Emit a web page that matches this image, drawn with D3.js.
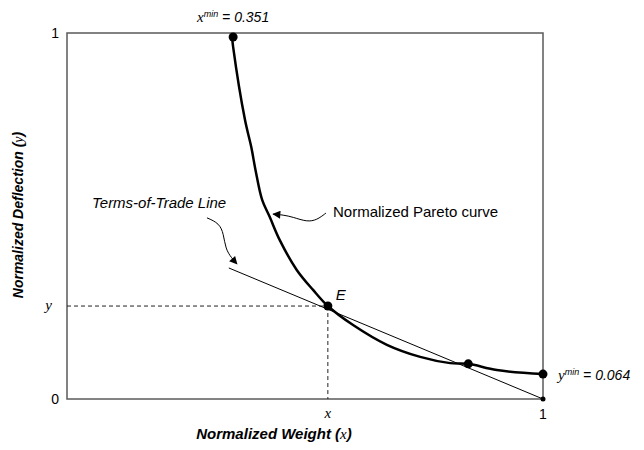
<!DOCTYPE html>
<html>
<head>
<meta charset="utf-8">
<script src="https://cdn.jsdelivr.net/npm/d3@7"></script>
<style>
  body { margin: 0; background: #fff; }
  svg text { font-family: "Liberation Sans", Arial, sans-serif; fill: #000; }
  .var { font-family: "Liberation Serif", "Times New Roman", serif; font-style: italic; font-weight: normal; }
</style>
</head>
<body>
<div id="chart"></div>
<script>
// normalized pareto curve (weight x, deflection y)
var paretoX = [0.347, 0.349, 0.374, 0.387, 0.396, 0.410, 0.426, 0.447, 0.483, 0.517, 0.548, 0.601, 0.672, 0.742, 0.805, 0.843, 0.903, 1.000];
var paretoY = [0.986, 0.962, 0.762, 0.689, 0.626, 0.544, 0.497, 0.434, 0.352, 0.298, 0.254, 0.202, 0.148, 0.115, 0.098, 0.096, 0.079, 0.068];

// terms-of-trade line end points
var tradeX = [0.340, 1.0];
var tradeY = [0.358, 0.0];

// marked points: x-min, E, crossing, y-min
var dotX = [0.349, 0.548, 0.843, 1.0];
var dotY = [0.989, 0.254, 0.096, 0.068];

// point E, used for dashed guides
var eX = 0.548, eY = 0.254;

// annotation arrows
var arrowTradeX = [0.294, 0.320, 0.329, 0.333, 0.346, 0.357];
var arrowTradeY = [0.495, 0.480, 0.451, 0.410, 0.385, 0.369];
var arrowParetoX = [0.544, 0.525, 0.504, 0.475, 0.454, 0.433];
var arrowParetoY = [0.508, 0.489, 0.484, 0.497, 0.503, 0.505];

var tickValues = [0, 1];

var width = 644, height = 450;
var margin = {top: 33, right: 101, bottom: 51, left: 67};
var plotW = width - margin.left - margin.right;
var plotH = height - margin.top - margin.bottom;

var svg = d3.select("#chart").append("svg")
    .attr("width", width)
    .attr("height", height);

var defs = svg.append("defs");
defs.append("marker")
    .attr("id", "arrowhead")
    .attr("viewBox", "0 0 10 10")
    .attr("refX", 9).attr("refY", 5)
    .attr("markerWidth", 10).attr("markerHeight", 8)
    .attr("markerUnits", "userSpaceOnUse")
    .attr("orient", "auto")
    .append("path")
    .attr("d", "M0,0 L10,5 L0,10 z")
    .attr("fill", "#000");

var g = svg.append("g").attr("transform", "translate(" + margin.left + "," + margin.top + ")");

var xScale = d3.scaleLinear().domain([0, 1]).range([0, plotW]);
var yScale = d3.scaleLinear().domain([0, 1]).range([plotH, 0]);

// frame
g.append("rect")
    .attr("x", xScale(0)).attr("y", yScale(1))
    .attr("width", xScale(1) - xScale(0))
    .attr("height", yScale(0) - yScale(1))
    .attr("fill", "none")
    .attr("stroke", "#5a5a5a")
    .attr("stroke-width", 1.5);

// tick labels
g.selectAll(".ytick").data(tickValues).enter().append("text")
    .attr("class", "ytick")
    .attr("x", -8)
    .attr("y", function(d) { return yScale(d) + 5; })
    .attr("text-anchor", "end")
    .attr("font-size", 14)
    .text(function(d) { return d; });

g.append("text")
    .attr("x", xScale(1))
    .attr("y", plotH + 20)
    .attr("text-anchor", "middle")
    .attr("font-size", 14)
    .text(tickValues[1]);

// dashed guides to E
g.append("line")
    .attr("x1", xScale(0)).attr("x2", xScale(eX))
    .attr("y1", yScale(eY)).attr("y2", yScale(eY))
    .attr("stroke", "#222").attr("stroke-width", 1)
    .attr("stroke-dasharray", "4,3");
g.append("line")
    .attr("x1", xScale(eX)).attr("x2", xScale(eX))
    .attr("y1", yScale(eY)).attr("y2", yScale(0))
    .attr("stroke", "#222").attr("stroke-width", 1)
    .attr("stroke-dasharray", "4,3");

g.append("text").attr("class", "var")
    .attr("x", -15).attr("y", yScale(eY) + 4)
    .attr("text-anchor", "end").attr("font-size", 15)
    .text("y");
g.append("text").attr("class", "var")
    .attr("x", xScale(eX)).attr("y", plotH + 19)
    .attr("text-anchor", "middle").attr("font-size", 15)
    .text("x");

// terms-of-trade line
g.append("path")
    .datum(d3.zip(tradeX, tradeY))
    .attr("d", d3.line().x(function(d) { return xScale(d[0]); }).y(function(d) { return yScale(d[1]); }))
    .attr("fill", "none")
    .attr("stroke", "#000")
    .attr("stroke-width", 1);

// pareto curve
g.append("path")
    .datum(d3.zip(paretoX, paretoY))
    .attr("d", d3.line()
        .curve(d3.curveCatmullRom)
        .x(function(d) { return xScale(d[0]); })
        .y(function(d) { return yScale(d[1]); }))
    .attr("fill", "none")
    .attr("stroke", "#000")
    .attr("stroke-width", 2.5);

// dots
g.selectAll(".dot").data(d3.zip(dotX, dotY)).enter().append("circle")
    .attr("class", "dot")
    .attr("cx", function(d) { return xScale(d[0]); })
    .attr("cy", function(d) { return yScale(d[1]); })
    .attr("r", 4.5)
    .attr("fill", "#000");

g.append("circle")
    .attr("cx", xScale(tradeX[1])).attr("cy", yScale(tradeY[1]))
    .attr("r", 2.5).attr("fill", "#000");

// arrows
var arrowLine = d3.line()
    .curve(d3.curveBasis)
    .x(function(d) { return xScale(d[0]); })
    .y(function(d) { return yScale(d[1]); });

g.append("path")
    .datum(d3.zip(arrowTradeX, arrowTradeY))
    .attr("d", arrowLine)
    .attr("fill", "none").attr("stroke", "#000").attr("stroke-width", 1)
    .attr("marker-end", "url(#arrowhead)");

g.append("path")
    .datum(d3.zip(arrowParetoX, arrowParetoY))
    .attr("d", arrowLine)
    .attr("fill", "none").attr("stroke", "#000").attr("stroke-width", 1)
    .attr("marker-end", "url(#arrowhead)");

// annotations
g.append("text")
    .attr("x", 25).attr("y", 175)
    .attr("font-size", 15).attr("font-style", "italic")
    .text("Terms-of-Trade Line");

g.append("text")
    .attr("x", 266).attr("y", 184)
    .attr("font-size", 15)
    .text("Normalized Pareto curve");

g.append("text")
    .attr("x", xScale(eX) + 8).attr("y", yScale(eY) - 6)
    .attr("font-size", 15).attr("font-style", "italic")
    .text("E");

var xminLabel = g.append("text")
    .attr("x", xScale(dotX[0])).attr("y", -11)
    .attr("text-anchor", "middle")
    .attr("font-size", 14).attr("font-style", "italic");
xminLabel.append("tspan").attr("class", "var").attr("font-size", 15).text("x");
xminLabel.append("tspan").attr("font-size", 9).attr("dy", -5).text("min");
xminLabel.append("tspan").attr("dy", 5).text(" = 0.351");

var yminLabel = g.append("text")
    .attr("x", xScale(1) + 15).attr("y", yScale(dotY[3]) + 6)
    .attr("font-size", 14).attr("font-style", "italic");
yminLabel.append("tspan").attr("class", "var").attr("font-size", 15).text("y");
yminLabel.append("tspan").attr("font-size", 9).attr("dy", -5).text("min");
yminLabel.append("tspan").attr("dy", 5).text(" = 0.064");

// axis titles
var xTitle = svg.append("text")
    .attr("x", 274).attr("y", 439)
    .attr("text-anchor", "middle")
    .attr("font-size", 15).attr("font-weight", "bold").attr("font-style", "italic");
xTitle.append("tspan").text("Normalized Weight (");
xTitle.append("tspan").attr("class", "var").text("x");
xTitle.append("tspan").text(")");

var yTitle = svg.append("text")
    .attr("transform", "translate(23,215) rotate(-90)")
    .attr("text-anchor", "middle")
    .attr("font-size", 14).attr("font-weight", "bold").attr("font-style", "italic");
yTitle.append("tspan").text("Normalized Deflection (");
yTitle.append("tspan").attr("class", "var").text("y");
yTitle.append("tspan").text(")");
</script>
</body>
</html>
